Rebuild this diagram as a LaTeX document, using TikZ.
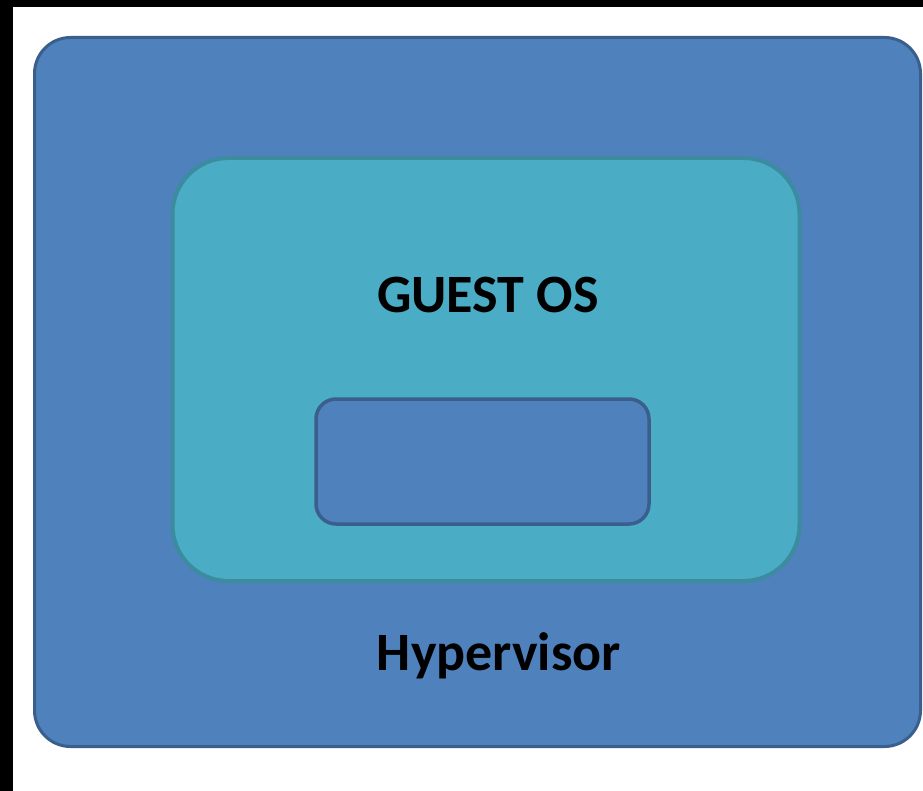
\documentclass[tikz,border=0pt]{standalone}
\usepackage{fontspec}
\setmainfont{Carlito}
\definecolor{hypfill}{HTML}{4F81BD}
\definecolor{hypline}{HTML}{3A5F8C}
\definecolor{guestfill}{HTML}{4BACC6}
\definecolor{guestline}{HTML}{3A8C9E}
\begin{document}
\begin{tikzpicture}[x=1pt,y=-1pt,
  box/.style={draw, inner sep=0pt, outer sep=0pt},
  lbl/.style={font=\fontsize{54}{60}\selectfont\bfseries, text=black, anchor=base, inner sep=0pt}]
\useasboundingbox (0,0) rectangle (923,791);
\fill[white] (0,0) rectangle (923,791);
\fill[black] (0,0) rectangle (13,791);
\fill[black] (0,0) rectangle (923,7);
\node[box, fill=hypfill, draw=hypline, line width=3pt, rounded corners=36pt,
  minimum width=886pt, minimum height=709pt] (hyp) at (477.5,392) {};
\node[box, fill=guestfill, draw=guestline, line width=4pt, rounded corners=56pt,
  minimum width=627pt, minimum height=423pt] (guest) at (486,369.5) {};
\node[box, fill=hypfill, draw=hypline, line width=3.5pt, rounded corners=20pt,
  minimum width=333pt, minimum height=125pt] (app) at (482.5,461.5) {};
\node[lbl] (gtext) at (488,313) {GUEST OS};
\node[lbl] (htext) at (499,670) {Hypervisor};
\end{tikzpicture}
\end{document}
